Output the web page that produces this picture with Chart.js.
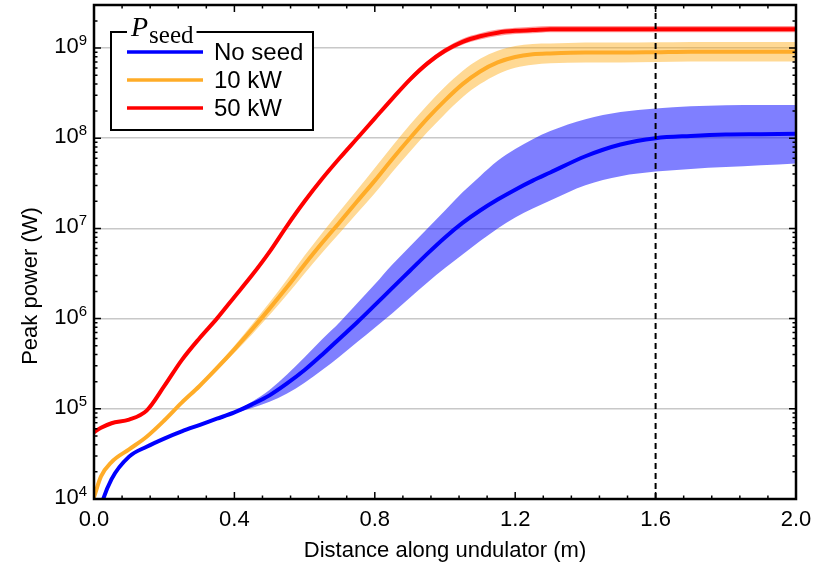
<!DOCTYPE html>
<html>
<head>
<meta charset="utf-8">
<script src="https://cdn.jsdelivr.net/npm/chart.js@4.4.1/dist/chart.umd.min.js"></script>
<style>
  html, body { margin: 0; padding: 0; background: #fff; }
  canvas { display: block; }
</style>
</head>
<body>
<canvas id="c" width="818" height="570"></canvas>
<script>
// ---------------- data ----------------
const X = [0, 0.02, 0.05, 0.1, 0.15, 0.2, 0.25, 0.3, 0.35, 0.4, 0.45, 0.5, 0.55, 0.6, 0.65, 0.7,
  0.75, 0.8, 0.85, 0.9, 0.95, 1.0, 1.05, 1.1, 1.15, 1.2, 1.25, 1.3, 1.4, 1.5, 1.6, 1.7, 1.8, 1.9, 2.0];

const noSeed = [3.55e3, 8.32e3, 1.66e4, 2.95e4, 3.80e4, 4.68e4, 5.62e4, 6.61e4, 7.76e4, 9.12e4,
  1.12e5, 1.41e5, 1.91e5, 2.69e5, 3.98e5, 6.03e5, 9.12e5, 1.41e6, 2.19e6, 3.39e6, 5.25e6, 7.94e6,
  1.15e7, 1.58e7, 2.09e7, 2.69e7, 3.39e7, 4.17e7, 6.31e7, 8.51e7, 1.0e8, 1.06e8, 1.10e8, 1.11e8, 1.12e8];

const seed10kW = [1.05e4, 1.78e4, 2.57e4, 3.55e4, 4.90e4, 7.41e4, 1.17e5, 1.78e5, 2.82e5, 4.57e5,
  7.59e5, 1.29e6, 2.24e6, 3.98e6, 6.92e6, 1.17e7, 2.0e7, 3.39e7, 5.89e7, 1.0e8, 1.66e8, 2.63e8,
  3.98e8, 5.50e8, 6.92e8, 7.94e8, 8.51e8, 8.71e8, 8.91e8, 8.91e8, 9.0e8, 9.12e8, 9.12e8, 9.12e8, 9.12e8];

const seed50kW = [5.5e4, 6.17e4, 6.92e4, 7.59e4, 9.55e4, 1.78e5, 3.47e5, 6.03e5, 1.0e6, 1.74e6,
  3.02e6, 5.50e6, 1.07e7, 2.0e7, 3.55e7, 6.03e7, 1.0e8, 1.66e8, 2.75e8, 4.47e8, 6.76e8, 9.33e8,
  1.17e9, 1.35e9, 1.48e9, 1.55e9, 1.58e9, 1.62e9, 1.62e9, 1.62e9, 1.62e9, 1.62e9, 1.62e9, 1.62e9, 1.62e9];

// shaded spread bands
const blueBandX = [0.4, 0.45, 0.5, 0.55, 0.6, 0.65, 0.7, 0.75, 0.8, 0.85, 0.9, 0.95, 1.0, 1.05,
  1.1, 1.15, 1.2, 1.25, 1.3, 1.4, 1.5, 1.6, 1.7, 1.8, 1.9, 2.0];
const noSeedHigh = [9.33e4, 1.20e5, 1.62e5, 2.40e5, 3.72e5, 5.89e5, 9.12e5, 1.48e6, 2.40e6, 3.98e6,
  6.31e6, 1.0e7, 1.58e7, 2.51e7, 3.80e7, 5.62e7, 7.59e7, 9.77e7, 1.20e8, 1.62e8, 1.95e8, 2.14e8,
  2.26e8, 2.32e8, 2.34e8, 2.34e8];
const noSeedLow = [8.91e4, 1.02e5, 1.20e5, 1.48e5, 1.95e5, 2.69e5, 3.80e5, 5.50e5, 7.94e5, 1.15e6,
  1.70e6, 2.51e6, 3.63e6, 5.13e6, 7.24e6, 1.0e7, 1.32e7, 1.66e7, 2.04e7, 3.02e7, 3.80e7, 4.27e7,
  4.57e7, 4.79e7, 5.01e7, 5.25e7];

const orangeBandX = [0.2, 0.25, 0.3, 0.35, 0.4, 0.45, 0.5, 0.55, 0.6, 0.65, 0.7, 0.75, 0.8, 0.85,
  0.9, 0.95, 1.0, 1.05, 1.1, 1.15, 1.2, 1.25, 1.3, 1.4, 1.5, 1.6, 1.7, 1.8, 1.9, 2.0];
const seed10kWLow = [7.24e4, 1.14e5, 1.70e5, 2.63e5, 4.17e5, 6.68e5, 1.10e6, 1.84e6, 3.16e6, 5.37e6,
  8.91e6, 1.48e7, 2.45e7, 4.22e7, 7.08e7, 1.17e8, 1.86e8, 2.85e8, 3.98e8, 5.13e8, 6.03e8, 6.53e8,
  6.76e8, 6.92e8, 6.92e8, 7.0e8, 7.08e8, 7.08e8, 7.08e8, 7.08e8];
const seed10kWHigh = [7.59e4, 1.22e5, 1.86e5, 3.02e5, 5.01e5, 8.61e5, 1.51e6, 2.72e6, 5.01e6, 8.91e6,
  1.55e7, 2.69e7, 4.68e7, 8.22e7, 1.41e8, 2.34e8, 3.72e8, 5.56e8, 7.59e8, 9.33e8, 1.05e9, 1.11e9,
  1.12e9, 1.15e9, 1.15e9, 1.16e9, 1.17e9, 1.17e9, 1.17e9, 1.17e9];

const redBandX = [0.6, 0.65, 0.7, 0.75, 0.8, 0.85, 0.9, 0.95, 1.0, 1.05, 1.1, 1.15, 1.2, 1.25, 1.3,
  1.4, 1.5, 1.6, 1.7, 1.8, 1.9, 2.0];
const seed50kWLow = [1.95e7, 3.46e7, 5.86e7, 9.66e7, 1.59e8, 2.62e8, 4.22e8, 6.34e8, 8.71e8, 1.09e9,
  1.24e9, 1.36e9, 1.43e9, 1.46e9, 1.50e9, 1.50e9, 1.50e9, 1.50e9, 1.50e9, 1.50e9, 1.50e9, 1.50e9];
const seed50kWHigh = [2.04e7, 3.64e7, 6.19e7, 1.035e8, 1.73e8, 2.89e8, 4.73e8, 7.21e8, 1.00e9, 1.27e9,
  1.46e9, 1.60e9, 1.68e9, 1.72e9, 1.76e9, 1.76e9, 1.76e9, 1.76e9, 1.76e9, 1.76e9, 1.76e9, 1.76e9];

const markerX = 1.6;                       // dashed vertical marker
const seriesLabels = ['No seed', '10 kW', '50 kW'];
const xTickValues = [0, 0.4, 0.8, 1.2, 1.6, 2.0];
const xTickLabels = ['0.0', '0.4', '0.8', '1.2', '1.6', '2.0'];
const yTickExponents = [4, 5, 6, 7, 8, 9];
const xTitle = 'Distance along undulator (m)';
const yTitle = 'Peak power (W)';
const yMin = 1e4, yMax = 3e9;

// ---------------- styling ----------------
const BLUE = 'rgb(0,0,255)', ORANGE = 'rgb(255,172,40)', RED = 'rgb(255,0,0)';
const FONT = '"Liberation Sans", Arial, Helvetica, sans-serif';
const SERIF = '"Liberation Serif", "Times New Roman", serif';

const pts = (xs, ys) => xs.map((x, i) => ({ x: x, y: ys[i] }));

function bandPair(xs, lo, hi, color, order) {
  return [
    { data: pts(xs, lo), borderWidth: 0, pointRadius: 0, fill: false, order: order, cubicInterpolationMode: 'monotone' },
    { data: pts(xs, hi), borderWidth: 0, pointRadius: 0, fill: '-1', backgroundColor: color, order: order, cubicInterpolationMode: 'monotone' }
  ];
}
function mainLine(ys, color, order) {
  return { data: pts(X, ys), borderColor: color, borderWidth: 4, pointRadius: 0, fill: false,
           order: order, cubicInterpolationMode: 'monotone', borderCapStyle: 'round', borderJoinStyle: 'round' };
}

const datasets = [
  ...bandPair(blueBandX, noSeedLow, noSeedHigh, 'rgba(0,0,255,0.5)', 30),
  ...bandPair(orangeBandX, seed10kWLow, seed10kWHigh, 'rgba(255,165,0,0.42)', 31),
  ...bandPair(redBandX, seed50kWLow, seed50kWHigh, 'rgba(255,0,0,0.4)', 32),
  mainLine(noSeed, BLUE, 3),
  mainLine(seed10kW, ORANGE, 4),
  mainLine(seed50kW, RED, 5),
  { data: [{ x: markerX, y: yMin }, { x: markerX, y: yMax }], borderColor: '#000', borderWidth: 2,
    borderDash: [6, 4], pointRadius: 0, fill: false, order: 0 }
];
datasets.forEach(d => { d.clip = 0; });

const legendItems = [
  { label: seriesLabels[0], color: BLUE },
  { label: seriesLabels[1], color: ORANGE },
  { label: seriesLabels[2], color: RED }
];

const decorPlugin = {
  id: 'decor',
  afterDraw(chart) {
    const ctx = chart.ctx, a = chart.chartArea, xs = chart.scales.x, ys = chart.scales.y;
    ctx.save();
    ctx.strokeStyle = '#000';
    ctx.lineWidth = 1.5;
    // x ticks (major every 0.4, minor every 0.08), bottom and top, inward
    for (let i = 0; i <= 25; i++) {
      const px = xs.getPixelForValue(i * 0.08);
      const L = (i % 5 === 0) ? 7 : 3.5;
      ctx.beginPath();
      ctx.moveTo(px, a.bottom); ctx.lineTo(px, a.bottom - L);
      ctx.moveTo(px, a.top); ctx.lineTo(px, a.top + L);
      ctx.stroke();
    }
    // y ticks (decades major, 2..9 minor), left and right, inward
    for (let e = 4; e <= 9; e++) {
      for (let m = 1; m <= 9; m++) {
        const v = m * Math.pow(10, e);
        if (v > yMax) break;
        const py = ys.getPixelForValue(v);
        const L = (m === 1) ? 7 : 3.5;
        ctx.beginPath();
        ctx.moveTo(a.left, py); ctx.lineTo(a.left + L, py);
        ctx.moveTo(a.right, py); ctx.lineTo(a.right - L, py);
        ctx.stroke();
      }
    }
    // frame
    ctx.lineWidth = 2.5;
    ctx.strokeRect(a.left, a.top, a.right - a.left, a.bottom - a.top);

    // x tick labels
    ctx.fillStyle = '#000';
    ctx.font = '22px ' + FONT;
    ctx.textAlign = 'center';
    ctx.textBaseline = 'middle';
    xTickValues.forEach((v, i) => ctx.fillText(xTickLabels[i], xs.getPixelForValue(v), 520));

    // y tick labels 10^n
    yTickExponents.forEach(e => {
      const py = ys.getPixelForValue(Math.pow(10, e));
      ctx.font = '15px ' + FONT;
      const ew = ctx.measureText(String(e)).width;
      const right = 87;
      ctx.textAlign = 'left';
      ctx.textBaseline = 'alphabetic';
      ctx.fillText(String(e), right - ew, py - 3);
      ctx.font = '22px ' + FONT;
      ctx.textAlign = 'right';
      ctx.fillText('10', right - ew, py + 5);
    });

    // axis titles
    ctx.font = '22px ' + FONT;
    ctx.textAlign = 'center';
    ctx.textBaseline = 'middle';
    ctx.fillText(xTitle, (a.left + a.right) / 2, 551);
    ctx.save();
    ctx.translate(31, 286);
    ctx.rotate(-Math.PI / 2);
    ctx.fillText(yTitle, 0, 0);
    ctx.restore();

    // legend box
    const L = { x: 111, y: 32, w: 202, h: 98 };
    ctx.fillStyle = '#fff';
    ctx.fillRect(L.x, L.y, L.w, L.h);
    ctx.lineWidth = 2;
    ctx.strokeStyle = '#000';
    ctx.strokeRect(L.x, L.y, L.w, L.h);
    // title on the border
    ctx.font = 'italic 28px ' + SERIF;
    const pw = ctx.measureText('P').width;
    ctx.font = '25px ' + SERIF;
    const sw = ctx.measureText('seed').width;
    ctx.fillStyle = '#fff';
    ctx.fillRect(127, L.y - 3, pw + sw + 8, 8);
    ctx.fillStyle = '#000';
    ctx.textAlign = 'left';
    ctx.textBaseline = 'alphabetic';
    ctx.font = 'italic 28px ' + SERIF;
    ctx.fillText('P', 131, 36);
    ctx.font = '25px ' + SERIF;
    ctx.fillText('seed', 131 + pw + 1, 43);
    // entries
    const rows = [52, 80, 108];
    legendItems.forEach((it, i) => {
      ctx.strokeStyle = it.color;
      ctx.lineWidth = 3.5;
      ctx.beginPath();
      ctx.moveTo(127, rows[i]); ctx.lineTo(203, rows[i]);
      ctx.stroke();
      ctx.fillStyle = '#000';
      ctx.font = '24px ' + FONT;
      ctx.textBaseline = 'middle';
      ctx.fillText(it.label, 214, rows[i] + 1);
    });
    ctx.restore();
  }
};

new Chart(document.getElementById('c'), {
  type: 'line',
  data: { datasets: datasets },
  options: {
    responsive: false,
    devicePixelRatio: 1,
    animation: false,
    events: [],
    layout: { padding: { left: 0, top: 5, right: 22, bottom: 0 } },
    plugins: { legend: { display: false }, tooltip: { enabled: false } },
    scales: {
      x: {
        type: 'linear', min: 0, max: 2,
        grid: { display: false, drawTicks: false },
        border: { display: false },
        ticks: { display: false },
        afterFit(s) { s.height = 71; }
      },
      y: {
        type: 'logarithmic', min: yMin, max: yMax,
        grid: { color: 'rgb(200,200,200)', lineWidth: 1.6, drawTicks: false },
        border: { display: false },
        ticks: { display: false },
        afterBuildTicks(s) { s.ticks = yTickExponents.map(e => ({ value: Math.pow(10, e) })); },
        afterFit(s) { s.width = 94; }
      }
    }
  },
  plugins: [decorPlugin]
});
</script>
</body>
</html>
